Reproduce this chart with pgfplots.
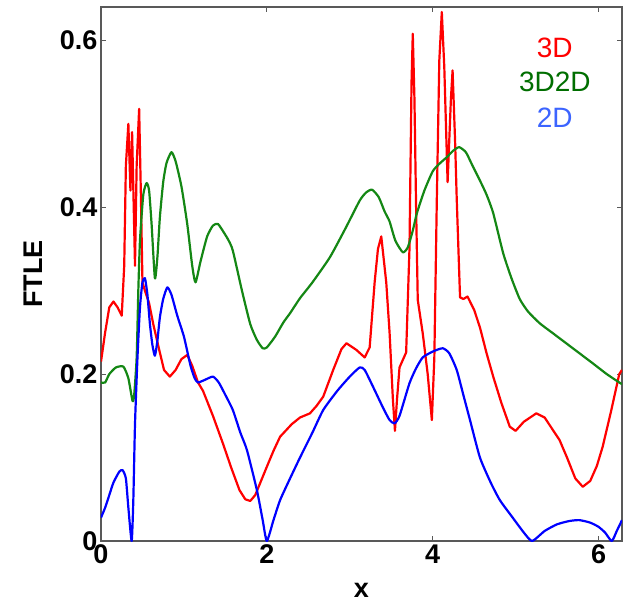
\documentclass[border=0pt]{standalone}
\usepackage{pgfplots}
\pgfplotsset{compat=1.18}
\usepackage{fontspec}
\setmainfont{Liberation Sans}
\usetikzlibrary{calc}
\definecolor{lred}{RGB}{255,0,0}
\definecolor{lgreen}{RGB}{20,135,20}
\definecolor{lblue}{RGB}{0,0,255}
\definecolor{tgreen}{RGB}{0,110,0}
\definecolor{tblue}{RGB}{60,100,255}
\begin{document}
\begin{tikzpicture}
\begin{axis}[name=ax,
  width=521pt, height=534pt, scale only axis,
  xmin=0, xmax=6.2832, ymin=0, ymax=0.64,
  xtick={0,2,4,6}, ytick={0,0.2,0.4,0.6},
  tick align=inside, major tick length=5pt,
  axis line style={draw=black!65, line width=1.2pt},
  tick style={draw=black!65, line width=1pt},
  /pgf/number format/assume math mode=true,
  tick label style={font=\bfseries\fontsize{27}{27}\selectfont},
  xlabel={x}, ylabel={FTLE},
  label style={font=\bfseries\fontsize{27}{27}\selectfont},
  xlabel style={at={(axis description cs:0.5,-0.092)}, anchor=center},
  ylabel style={at={(axis description cs:-0.13,0.5)}, anchor=center},
  clip=true,
  every axis plot/.append style={line width=2.2pt, line join=round, no markers},
]
\addplot[lred] coordinates {
(0.00,0.215)(0.05,0.25)(0.10,0.28)(0.15,0.287)(0.20,0.28)(0.25,0.27)(0.28,0.33)(0.30,0.45)(0.33,0.50)(0.355,0.42)(0.375,0.49)(0.41,0.33)(0.43,0.45)(0.46,0.518)(0.48,0.42)(0.50,0.31)(0.53,0.30)(0.58,0.285)(0.63,0.26)(0.70,0.23)(0.76,0.205)(0.83,0.197)(0.90,0.205)(0.97,0.218)(1.04,0.223)(1.10,0.21)(1.17,0.19)(1.23,0.18)(1.35,0.15)(1.47,0.117)(1.57,0.088)(1.67,0.061)(1.74,0.050)(1.80,0.048)(1.86,0.055)(2.00,0.089)(2.08,0.108)(2.16,0.125)(2.30,0.140)(2.40,0.148)(2.52,0.153)(2.60,0.162)(2.68,0.173)(2.80,0.205)(2.90,0.230)(2.96,0.237)(3.08,0.229)(3.18,0.220)(3.24,0.232)(3.30,0.31)(3.34,0.35)(3.38,0.365)(3.44,0.31)(3.48,0.25)(3.52,0.17)(3.545,0.132)(3.57,0.17)(3.60,0.208)(3.68,0.226)(3.72,0.35)(3.745,0.55)(3.76,0.608)(3.78,0.53)(3.80,0.40)(3.82,0.289)(3.88,0.249)(3.94,0.20)(3.99,0.145)(4.02,0.22)(4.05,0.41)(4.08,0.576)(4.11,0.634)(4.14,0.568)(4.18,0.43)(4.22,0.53)(4.24,0.564)(4.27,0.48)(4.29,0.41)(4.33,0.292)(4.37,0.29)(4.42,0.293)(4.46,0.285)(4.50,0.277)(4.57,0.256)(4.65,0.225)(4.73,0.197)(4.83,0.165)(4.93,0.137)(5.00,0.132)(5.10,0.143)(5.25,0.153)(5.35,0.148)(5.45,0.133)(5.53,0.121)(5.62,0.10)(5.72,0.075)(5.81,0.065)(5.90,0.072)(5.98,0.09)(6.05,0.113)(6.15,0.155)(6.25,0.20)(6.283,0.205)
};
\addplot[lgreen, smooth, tension=0.35] coordinates {
(0.00,0.19)(0.05,0.19)(0.10,0.20)(0.18,0.208)(0.27,0.209)(0.33,0.195)(0.38,0.168)(0.40,0.175)(0.43,0.22)(0.45,0.30)(0.47,0.36)(0.51,0.415)(0.55,0.429)(0.58,0.42)(0.61,0.38)(0.65,0.315)(0.68,0.34)(0.71,0.388)(0.75,0.43)(0.79,0.453)(0.85,0.466)(0.90,0.455)(0.97,0.425)(1.04,0.38)(1.10,0.33)(1.14,0.31)(1.20,0.335)(1.28,0.365)(1.35,0.378)(1.41,0.38)(1.48,0.37)(1.54,0.36)(1.59,0.348)(1.70,0.30)(1.80,0.26)(1.88,0.241)(1.95,0.231)(2.00,0.232)(2.10,0.245)(2.20,0.262)(2.28,0.273)(2.40,0.291)(2.55,0.31)(2.76,0.34)(2.95,0.375)(3.12,0.408)(3.20,0.418)(3.27,0.421)(3.35,0.412)(3.42,0.395)(3.48,0.383)(3.55,0.36)(3.64,0.346)(3.70,0.352)(3.76,0.372)(3.81,0.393)(3.90,0.42)(4.00,0.443)(4.08,0.452)(4.17,0.46)(4.25,0.468)(4.32,0.472)(4.40,0.466)(4.47,0.452)(4.57,0.432)(4.65,0.415)(4.73,0.393)(4.85,0.345)(4.95,0.315)(5.05,0.29)(5.15,0.275)(5.29,0.261)(5.45,0.249)(5.61,0.237)(5.77,0.225)(5.93,0.213)(6.10,0.20)(6.25,0.19)(6.283,0.188)
};
\addplot[lblue, smooth, tension=0.35] coordinates {
(0.00,0.028)(0.05,0.04)(0.10,0.055)(0.15,0.07)(0.22,0.083)(0.26,0.085)(0.30,0.075)(0.33,0.04)(0.37,0.0)(0.39,0.05)(0.41,0.14)(0.44,0.22)(0.47,0.28)(0.50,0.31)(0.53,0.315)(0.56,0.295)(0.59,0.26)(0.62,0.235)(0.65,0.222)(0.68,0.24)(0.71,0.268)(0.75,0.29)(0.80,0.304)(0.85,0.295)(0.92,0.27)(1.00,0.245)(1.08,0.21)(1.13,0.195)(1.17,0.19)(1.25,0.193)(1.35,0.197)(1.42,0.19)(1.50,0.175)(1.59,0.157)(1.68,0.13)(1.76,0.109)(1.88,0.061)(1.95,0.025)(2.00,0.0)(2.08,0.025)(2.16,0.049)(2.28,0.075)(2.40,0.10)(2.55,0.13)(2.68,0.157)(2.85,0.18)(3.00,0.197)(3.12,0.208)(3.18,0.205)(3.28,0.185)(3.40,0.16)(3.48,0.145)(3.54,0.141)(3.60,0.15)(3.72,0.189)(3.80,0.207)(3.88,0.22)(4.00,0.227)(4.12,0.231)(4.20,0.225)(4.29,0.205)(4.37,0.175)(4.45,0.145)(4.57,0.10)(4.70,0.07)(4.81,0.049)(4.95,0.03)(5.10,0.01)(5.20,0.0)(5.35,0.012)(5.50,0.02)(5.65,0.024)(5.77,0.025)(5.90,0.022)(6.00,0.017)(6.08,0.01)(6.16,0.0)(6.22,0.012)(6.283,0.025)
};
\node[text=lred, font=\fontsize{28}{28}\selectfont] at (rel axis cs:0.871,0.923) {3D};
\node[text=tgreen, font=\fontsize{28}{28}\selectfont] at (rel axis cs:0.871,0.860) {3D2D};
\node[text=tblue, font=\fontsize{28}{28}\selectfont] at (rel axis cs:0.871,0.792) {2D};
\end{axis}
\path[use as bounding box] ($(ax.south west)+(-101pt,-61pt)$) rectangle ($(ax.north east)+(1pt,7pt)$);
\end{tikzpicture}
\end{document}
